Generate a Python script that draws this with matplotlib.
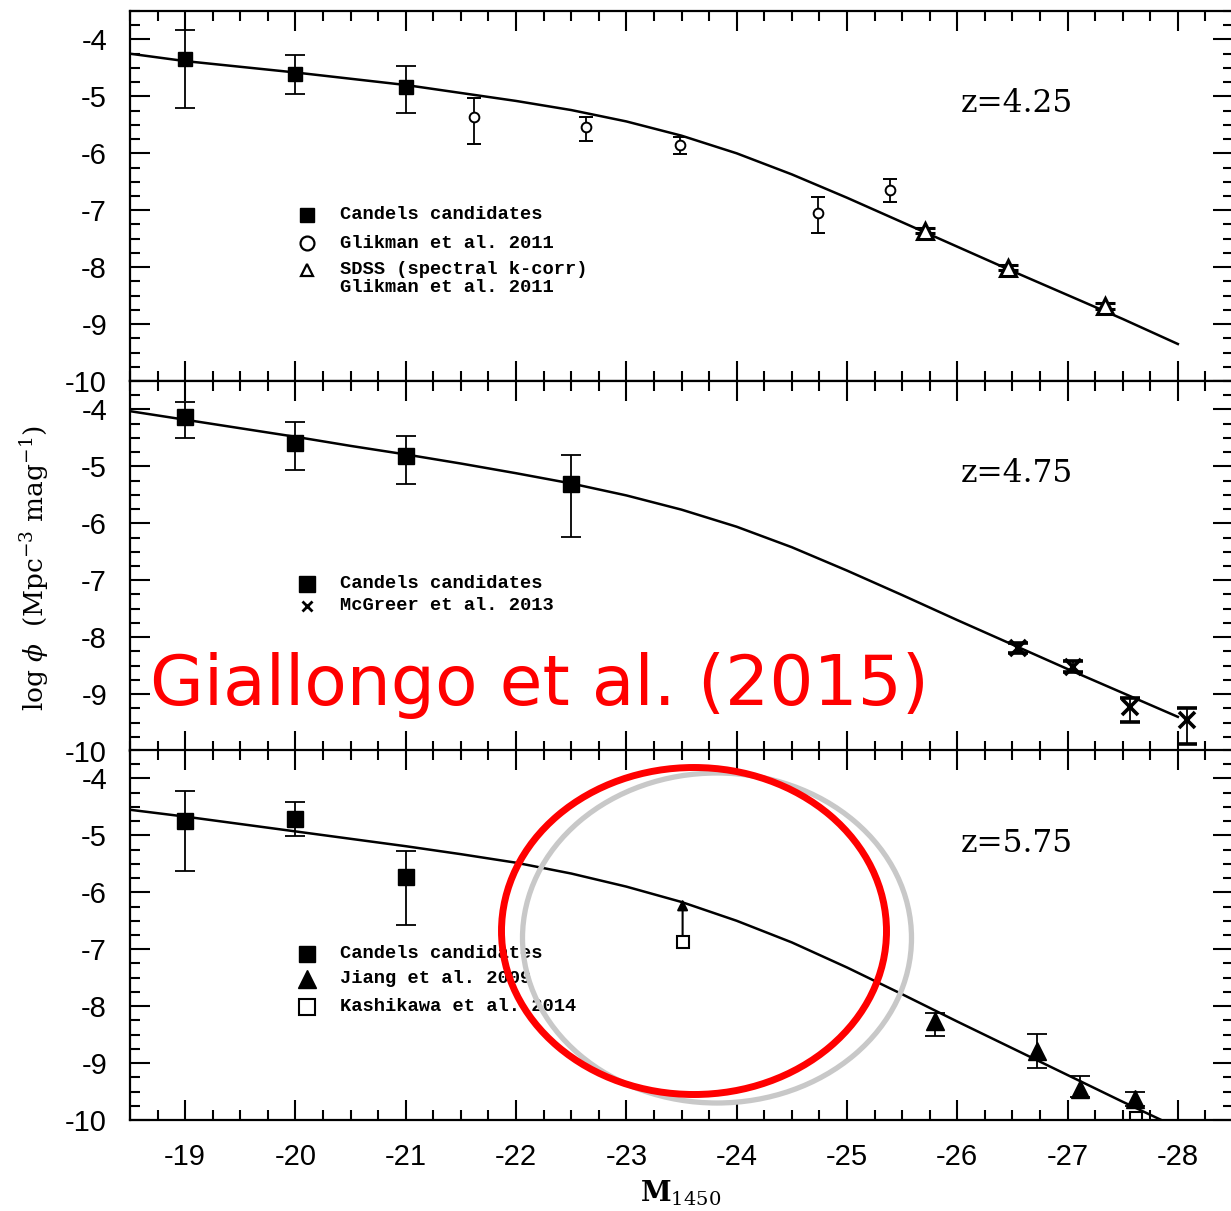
import matplotlib
matplotlib.use("Agg")
import matplotlib.pyplot as plt
from matplotlib import font_manager
from matplotlib.patches import Ellipse
from matplotlib.ticker import MultipleLocator

plt.rcParams['axes.unicode_minus'] = False
plt.rcParams['mathtext.fontset'] = 'dejavuserif'

_names = {f.name for f in font_manager.fontManager.ttflist}
TICK_FAMILY = ['Liberation Sans Narrow'] if 'Liberation Sans Narrow' in _names else ['Liberation Sans']
TICK_SIZE = 23 if 'Liberation Sans Narrow' in _names else 21
MONO = ['Liberation Mono', 'DejaVu Sans Mono']

# ---------------- z = 4.25 ----------------
fit1_M = [-18.5, -19, -19.5, -20, -20.5, -21, -21.5, -22, -22.5, -23, -23.5, -24,
          -24.5, -25, -25.5, -26, -26.5, -27, -27.5, -28]
fit1_phi = [-4.25, -4.38, -4.48, -4.58, -4.69, -4.80, -4.94, -5.08, -5.24, -5.44, -5.69, -6.00,
            -6.37, -6.78, -7.21, -7.64, -8.07, -8.49, -8.91, -9.35]
cand1_M = [-19, -20, -21]
cand1_phi = [-4.35, -4.60, -4.83]
cand1_hi = [0.51, 0.32, 0.37]
cand1_lo = [0.86, 0.35, 0.46]
glik_M = [-21.62, -22.63, -23.49, -24.74, -25.39]
glik_phi = [-5.37, -5.53, -5.85, -7.05, -6.64]
glik_hi = [0.35, 0.17, 0.14, 0.29, 0.19]
glik_lo = [0.46, 0.25, 0.17, 0.35, 0.21]
sdss_M = [-25.71, -26.46, -27.34]
sdss_phi = [-7.36, -8.01, -8.68]
sdss_err = [0.04, 0.04, 0.05]

# ---------------- z = 4.75 ----------------
fit2_M = [-18.5, -19, -19.5, -20, -20.5, -21, -21.5, -22, -22.5, -23, -23.5, -24,
          -24.5, -25, -25.5, -26, -26.5, -27, -27.5, -28]
fit2_phi = [-4.03, -4.18, -4.33, -4.48, -4.64, -4.79, -4.95, -5.12, -5.30, -5.51, -5.76, -6.06,
            -6.42, -6.83, -7.26, -7.70, -8.13, -8.56, -8.98, -9.40]
cand2_M = [-19, -20, -21, -22.5]
cand2_phi = [-4.13, -4.59, -4.82, -5.31]
cand2_hi = [0.26, 0.37, 0.35, 0.51]
cand2_lo = [0.37, 0.47, 0.49, 0.93]
mcg_M = [-26.55, -27.05, -27.57, -28.08]
mcg_phi = [-8.19, -8.52, -9.22, -9.46]
mcg_hi = [0.09, 0.10, 0.15, 0.21]
mcg_lo = [0.09, 0.10, 0.27, 0.41]

# ---------------- z = 5.75 ----------------
fit3_M = [-18.5, -19, -19.5, -20, -20.5, -21, -21.5, -22, -22.5, -23, -23.5, -24,
          -24.5, -25, -25.5, -26, -26.5, -27, -27.5, -27.85]
fit3_phi = [-4.55, -4.67, -4.80, -4.93, -5.06, -5.19, -5.33, -5.48, -5.67, -5.90, -6.17, -6.50,
            -6.88, -7.32, -7.79, -8.27, -8.74, -9.21, -9.68, -10.0]
cand3_M = [-19, -20, -21]
cand3_phi = [-4.74, -4.71, -5.73]
cand3_hi = [0.52, 0.30, 0.46]
cand3_lo = [0.88, 0.30, 0.84]
jiang_M = [-25.80, -26.72, -27.11, -27.61]
jiang_phi = [-8.26, -8.79, -9.46, -9.63]
jiang_hi = [0.14, 0.30, 0.23, 0.12]
jiang_lo = [0.26, 0.30, 0.14, 0.12]
kash_M = [-23.51, -27.62]
kash_phi = [-6.87, -9.97]
kash_limit_M = -23.51
kash_limit_phi = -6.12

redshifts = ["z=4.25", "z=4.75", "z=5.75"]
xticks = list(range(-19, -29, -1))
yticks = list(range(-10, -3))

W, H = 1231, 1211
fig = plt.figure(figsize=(W / 100, H / 100), dpi=100)

left = 130 / W
width = 1103 / W
ph = 370 / H
bottoms = [1 - 381 / H, 1 - 751 / H, 1 - 1120 / H]
axes = [fig.add_axes([left, b, width, ph]) for b in bottoms]


def style_axis(ax, show_x):
    ax.set_xlim(-18.5, -28.5)
    ax.set_ylim(-10, -3.5)
    ax.set_xticks(xticks)
    ax.set_yticks(yticks)
    ax.xaxis.set_minor_locator(MultipleLocator(0.25))
    ax.yaxis.set_minor_locator(MultipleLocator(0.25))
    ax.tick_params(which='both', direction='in', top=True, right=True, width=1.5, pad=16.5,
                   labelsize=TICK_SIZE, labelbottom=show_x)
    ax.tick_params(which='major', length=14.5)
    ax.tick_params(which='minor', length=7.2)
    for lab in ax.get_xticklabels() + ax.get_yticklabels():
        lab.set_family(TICK_FAMILY)
    for s in ax.spines.values():
        s.set_linewidth(1.6)


def legend_rows(ax, rows):
    for (mk, mkw, ty, label) in rows:
        ax.plot([0.1605], [ty], transform=ax.transAxes, clip_on=False, linestyle='none',
                marker=mk, **mkw)
        ax.text(0.1904, ty, label, transform=ax.transAxes, ha='left', va='center',
                family=MONO, fontweight='bold', fontsize=13.5)


ebkw = dict(ecolor='k', elinewidth=1.3, capsize=7, capthick=1.3, linestyle='none')
sq_big = dict(marker='s', color='k', markersize=11.5)

# Panel 1
ax = axes[0]
ax.plot(fit1_M, fit1_phi, color='k', lw=1.8)
ax.errorbar(cand1_M, cand1_phi, yerr=[cand1_lo, cand1_hi], marker='s', color='k',
            markersize=9.5, **ebkw)
ax.errorbar(glik_M, glik_phi, yerr=[glik_lo, glik_hi], marker='o', mfc='white', mec='k',
            mew=1.4, markersize=7, **dict(ebkw, capsize=5))
ax.errorbar(sdss_M, sdss_phi, yerr=sdss_err, marker='^', mfc='white', mec='k', mew=2.2,
            markersize=11, **dict(ebkw, capsize=7))
ax.text(-26.03, -5.12, redshifts[0], family='DejaVu Serif', fontsize=22.5, ha='left', va='center')
legend_rows(ax, [
    ('s', dict(color='k', markersize=9.5), 0.450, 'Candels candidates'),
    ('o', dict(mfc='white', mec='k', mew=1.6, markersize=10), 0.372, 'Glikman et al. 2011'),
    ('^', dict(mfc='white', mec='k', mew=1.6, markersize=8), 0.300, 'SDSS (spectral k-corr)'),
])
ax.text(0.1904, 0.254, 'Glikman et al. 2011', transform=ax.transAxes, ha='left',
        va='center', family=MONO, fontweight='bold', fontsize=13.5)
style_axis(ax, False)

# Panel 2
ax = axes[1]
ax.plot(fit2_M, fit2_phi, color='k', lw=1.8)
ax.errorbar(cand2_M, cand2_phi, yerr=[cand2_lo, cand2_hi], **sq_big, **ebkw)
ax.errorbar(mcg_M, mcg_phi, yerr=[mcg_lo, mcg_hi], marker='x', color='k', mew=2.6,
            markersize=12, **ebkw)
ax.text(-26.03, -5.13, redshifts[1], family='DejaVu Serif', fontsize=22.5, ha='left', va='center')
legend_rows(ax, [
    ('s', dict(color='k', markersize=11), 0.452, 'Candels candidates'),
    ('x', dict(color='k', mew=2, markersize=7), 0.392, 'McGreer et al. 2013'),
])
style_axis(ax, False)

# Panel 3
ax = axes[2]
ax.plot(fit3_M, fit3_phi, color='k', lw=1.8)
ax.errorbar(cand3_M, cand3_phi, yerr=[cand3_lo, cand3_hi], **sq_big, **ebkw)
ax.errorbar(jiang_M, jiang_phi, yerr=[jiang_lo, jiang_hi], marker='^', color='k',
            markersize=13, **ebkw)
ax.plot(kash_M, kash_phi, linestyle='none', marker='s', mfc='white', mec='k', mew=1.5,
        markersize=9)
ax.annotate('', xy=(kash_limit_M, kash_limit_phi), xytext=(kash_limit_M, kash_phi[0] + 0.11),
            arrowprops=dict(arrowstyle='-|>', color='k', lw=1.5, mutation_scale=16,
                            shrinkA=0, shrinkB=0))
ax.text(-26.03, -5.15, redshifts[2], family='DejaVu Serif', fontsize=22.5, ha='left', va='center')
legend_rows(ax, [
    ('s', dict(color='k', markersize=11), 0.450, 'Candels candidates'),
    ('^', dict(color='k', markersize=13), 0.382, 'Jiang et al. 2009'),
    ('s', dict(mfc='white', mec='k', mew=1.5, markersize=11), 0.306, 'Kashikawa et al. 2014'),
])
style_axis(ax, True)

# Axis titles
fig.text(35 / W, 1 - 568 / H, r'log $\phi$  (Mpc$^{-3}$ mag$^{-1}$)', rotation=90,
         ha='center', va='center', family='DejaVu Serif', fontsize=19)
fig.text(681 / W, 1 - 1202 / H, r'M$_{1450}$', ha='center', va='baseline',
         family='DejaVu Serif', fontweight='bold', fontsize=20)

# Citation and highlight rings
fig.text(150 / W, 1 - 705 / H, 'Giallongo et al. (2015)', color='#ff0000',
         family='DejaVu Sans', fontsize=50, ha='left', va='baseline')
fig.add_artist(Ellipse((717 / W, 1 - 938 / H), 389 / W, 330 / H, transform=fig.transFigure,
                       fill=False, ec='#c8c8c8', lw=3.8))
fig.add_artist(Ellipse((694 / W, 1 - 931 / H), 385 / W, 327 / H, transform=fig.transFigure,
                       fill=False, ec='#ff0000', lw=5))

fig.savefig('out.png', dpi=100)
